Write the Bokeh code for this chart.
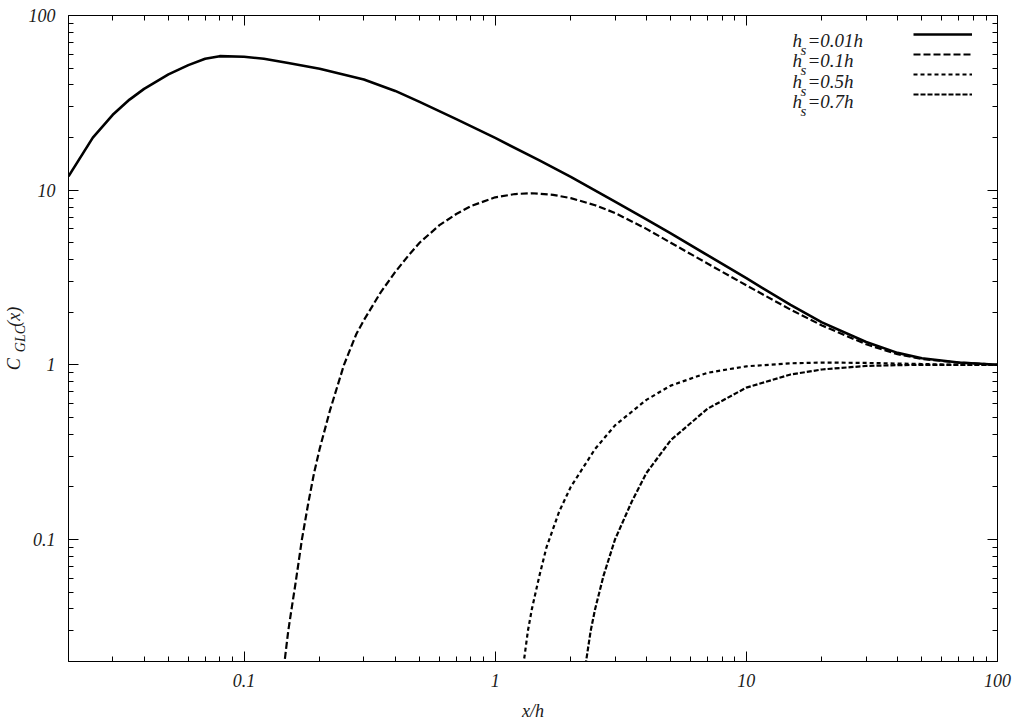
import math
from bokeh.plotting import figure
from bokeh.models import (LogAxis, FixedTicker, CustomJSTickFormatter, Label,
                          Legend, LegendItem, Range1d)
from bokeh.embed import file_html
from bokeh.resources import INLINE

# ---------------- data ----------------
x_range = (0.02, 100)
y_range = (0.02, 100)

major_ticks = [0.1, 1, 10, 100]
minor_ticks = [0.02, 0.03, 0.04, 0.05, 0.06, 0.07, 0.08, 0.09,
               0.2, 0.3, 0.4, 0.5, 0.6, 0.7, 0.8, 0.9,
               2, 3, 4, 5, 6, 7, 8, 9,
               20, 30, 40, 50, 60, 70, 80, 90]

series_names = ["0.01h", "0.1h", "0.5h", "0.7h"]

x_001 = [0.02, 0.025, 0.03, 0.035, 0.04, 0.05, 0.06, 0.07, 0.08, 0.1, 0.12, 0.15,
         0.2, 0.3, 0.4, 0.5, 0.7, 1, 1.5, 2, 3, 4, 5, 7, 10, 15, 20, 30, 40, 50, 70, 100]
y_001 = [12, 20, 27, 33, 38, 46, 52, 56.5, 58.5, 58, 56.5, 53.5,
         49.5, 43, 37, 32, 25.5, 19.9, 14.8, 11.9, 8.6, 6.8, 5.66, 4.24, 3.13, 2.2, 1.75, 1.35, 1.17,
         1.09, 1.03, 1.0]

x_01 = [0.14, 0.145, 0.15, 0.155, 0.16, 0.17, 0.18, 0.19, 0.2, 0.22, 0.25, 0.28, 0.3, 0.35, 0.4,
        0.45, 0.5, 0.6, 0.7, 0.8, 1.0, 1.2, 1.4, 1.7, 2, 2.5, 3, 4, 5, 7, 10, 15, 20, 30, 40, 50,
        70, 100]
y_01 = [0.014, 0.02, 0.03, 0.041, 0.055, 0.1, 0.16, 0.24, 0.33, 0.55, 1.0, 1.5, 1.8, 2.6, 3.4,
        4.2, 5.0, 6.3, 7.3, 8.1, 9.1, 9.5, 9.6, 9.4, 9.0, 8.2, 7.4, 6.0, 5.0, 3.8, 2.85, 2.07,
        1.68, 1.31, 1.15, 1.08, 1.03, 1.0]

x_05 = [1.25, 1.3, 1.35, 1.4, 1.5, 1.6, 1.8, 2, 2.5, 3, 4, 5, 7, 10, 15, 20, 30, 50, 70, 100]
y_05 = [0.012, 0.02, 0.03, 0.04, 0.062, 0.09, 0.145, 0.2, 0.33, 0.45, 0.63, 0.76, 0.9, 0.98,
        1.02, 1.03, 1.025, 1.01, 1.0, 1.0]

x_07 = [2.25, 2.3, 2.4, 2.5, 2.7, 3, 3.5, 4, 5, 7, 10, 15, 20, 30, 40, 50, 70, 100]
y_07 = [0.012, 0.02, 0.03, 0.04, 0.062, 0.1, 0.165, 0.24, 0.37, 0.56, 0.74, 0.88, 0.94, 0.985,
        0.995, 1.0, 1.0, 1.0]

# ---------------- layout ----------------
W, H = 1024, 726
BL, BR, BT, BB = 68, 27, 15, 65
FONT = "Liberation Serif"
TXT = "#1a1a1a"

p = figure(width=W, height=H, x_axis_type="log", y_axis_type="log",
           x_range=Range1d(*x_range), y_range=Range1d(*y_range),
           output_backend="svg", toolbar_location=None,
           min_border_left=BL, min_border_right=BR, min_border_top=BT, min_border_bottom=BB)
p.grid.visible = False
p.outline_line_color = None
p.background_fill_color = "white"
p.border_fill_color = "white"

FL, FR, FT, FB = BL, W - BR, BT, H - BB
lx0, lx1 = math.log10(x_range[0]), math.log10(x_range[1])
ly0, ly1 = math.log10(y_range[0]), math.log10(y_range[1])


def dx(px):  # canvas pixel -> data x
    return 10 ** (lx0 + (px - FL) / (FR - FL) * (lx1 - lx0))


def dy(py):  # canvas pixel -> data y
    return 10 ** (ly1 - (py - FT) / (FB - FT) * (ly1 - ly0))


fmt = CustomJSTickFormatter(code="return parseFloat(tick.toPrecision(3)).toString();")


def style_axis(ax, labels=True):
    ax.ticker = FixedTicker(ticks=major_ticks, minor_ticks=minor_ticks)
    ax.formatter = fmt
    ax.axis_line_color = "black"
    ax.axis_line_width = 1
    ax.major_tick_in = 10
    ax.major_tick_out = 0
    ax.minor_tick_in = 5
    ax.minor_tick_out = 0
    ax.major_tick_line_color = "black"
    ax.minor_tick_line_color = "black"
    ax.major_label_text_font = FONT
    ax.major_label_text_font_style = "italic"
    ax.major_label_text_font_size = "18px"
    ax.axis_label_text_font = FONT
    ax.axis_label_text_font_style = "italic"
    ax.axis_label_text_color = TXT
    if labels:
        ax.major_label_text_color = TXT
        ax.major_label_standoff = 12
    else:
        ax.major_label_text_color = None
        ax.major_label_standoff = 0


xa = p.xaxis[0]
ya = p.yaxis[0]
style_axis(xa)
style_axis(ya)
ya.major_label_standoff = 13

# x title
xa.axis_label = "x/h"
xa.axis_label_text_font_size = "18px"
xa.axis_label_standoff = 11

# y title: C_GLC(x) -- subscript on the inner axis label, C ... (x) on an outer one
ya.axis_label = "GLC"
ya.axis_label_text_font_size = "14px"
ya.axis_label_standoff = -2

outer = LogAxis(ticker=FixedTicker(ticks=[]), axis_line_color=None,
                major_tick_line_color=None, minor_tick_line_color=None,
                major_label_text_color=None)
outer.axis_label = "C" + "\u00a0" * 7 + "(x)"
outer.axis_label_text_font = FONT
outer.axis_label_text_font_style = "italic"
outer.axis_label_text_font_size = "18px"
outer.axis_label_text_color = TXT
outer.axis_label_standoff = -14
p.add_layout(outer, "left")

top_ax = LogAxis()
right_ax = LogAxis()
style_axis(top_ax, labels=False)
style_axis(right_ax, labels=False)
p.add_layout(top_ax, "above")
p.add_layout(right_ax, "right")

# ---------------- curves ----------------
r1 = p.line(x_001, y_001, line_color="black", line_width=2.6, line_join="round")
r2 = p.line(x_01, y_01, line_color="black", line_width=2.2, line_dash="7 3")
r3 = p.line(x_05, y_05, line_color="black", line_width=2.2, line_dash="4 3")
r4 = p.line(x_07, y_07, line_color="black", line_width=2.2, line_dash="5 2")

legend = Legend(items=[LegendItem(label=" ", renderers=[r]) for r in (r1, r2, r3, r4)],
                location="top_right", orientation="vertical",
                glyph_width=59, glyph_height=20, spacing=0,
                label_width=16, label_height=20, label_standoff=0,
                label_text_font_size="10px", label_text_color=None, padding=9, margin=0,
                background_fill_alpha=0, border_line_alpha=0)
p.add_layout(legend)

# legend texts  h_s = ...
rows = [40, 60, 81, 101]
for name, base in zip(series_names, rows):
    p.add_layout(Label(x=dx(792), y=dy(base), text="h", text_font=FONT,
                       text_font_style="italic", text_font_size="19px", text_color=TXT,
                       text_baseline="alphabetic", text_align="left"))
    p.add_layout(Label(x=dx(800), y=dy(base + 9), text="s", text_font=FONT,
                       text_font_style="italic", text_font_size="15px", text_color=TXT,
                       text_baseline="alphabetic", text_align="left"))
    p.add_layout(Label(x=dx(807), y=dy(base), text="=" + name, text_font=FONT,
                       text_font_style="italic", text_font_size="19px", text_color=TXT,
                       text_baseline="alphabetic", text_align="left"))

open("out.html", "w").write(file_html(p, INLINE))
